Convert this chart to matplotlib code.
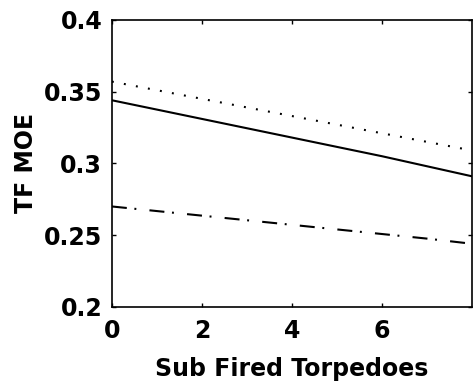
import matplotlib
matplotlib.use('Agg')
import matplotlib.pyplot as plt

# torpedoes fired by the sub
torpedoes = [0, 1, 2, 3, 4, 5, 6, 7, 8]

# TF MOE for each case
moe_dotted = [0.357, 0.351, 0.345, 0.339, 0.333, 0.327, 0.321, 0.315, 0.309]
moe_solid = [0.344, 0.3375, 0.331, 0.3245, 0.318, 0.3115, 0.305, 0.298, 0.291]
moe_dashdot = [0.270, 0.2668, 0.2636, 0.2604, 0.2572, 0.254, 0.2508, 0.2476, 0.244]

plt.rcParams['font.family'] = ['DejaVu Sans']
plt.rcParams['font.weight'] = 'bold'
plt.rcParams['lines.scale_dashes'] = False

fig = plt.figure(figsize=(4.74, 3.90), dpi=100)
ax = fig.add_axes([0.236, 0.213, 0.76, 0.736])

ax.plot(torpedoes, moe_dotted, color='black', lw=1.5, linestyle=(0, (1.4, 7.4)))
ax.plot(torpedoes, moe_solid, color='black', lw=1.5, linestyle='-')
ax.plot(torpedoes, moe_dashdot, color='black', lw=1.5, linestyle=(0, (10.8, 5.5, 1.4, 9.5)))

ax.set_xlim(0, 8)
ax.set_ylim(0.2, 0.4)
ax.set_xticks([0, 2, 4, 6])
ax.set_yticks([0.2, 0.25, 0.3, 0.35, 0.4])
ax.set_yticklabels(['0.2', '0.25', '0.3', '0.35', '0.4'])
ax.tick_params(direction='in', top=True, right=True, length=3, width=1,
               labelsize=17)
ax.tick_params(axis='x', pad=9)
ax.tick_params(axis='y', pad=7)
for lbl in ax.get_xticklabels() + ax.get_yticklabels():
    lbl.set_fontweight('bold')
for sp in ax.spines.values():
    sp.set_linewidth(1.2)

ax.set_xlabel('Sub Fired Torpedoes', fontsize=17, fontweight='bold', labelpad=10)
ax.set_ylabel('TF MOE', fontsize=17, fontweight='bold', labelpad=4)

fig.savefig('out.png', dpi=100)
